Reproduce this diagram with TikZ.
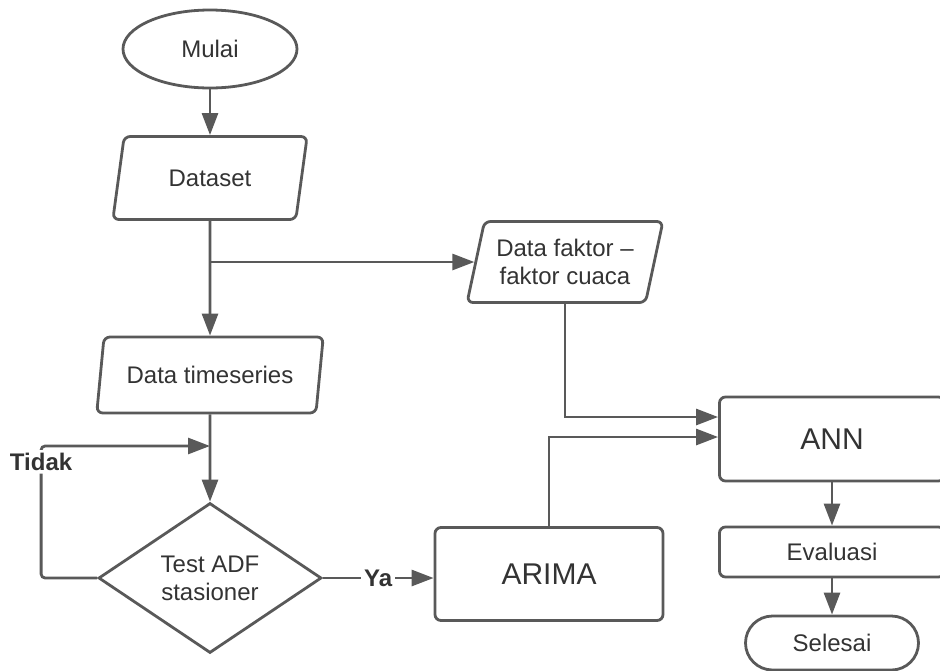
\documentclass[tikz,border=0pt]{standalone}
\usepackage{fontspec}
\setmainfont{Liberation Sans}
\usetikzlibrary{shapes.geometric,shapes.misc,arrows.meta,positioning}

\definecolor{linegray}{HTML}{595959}
\definecolor{textgray}{HTML}{333333}

\tikzset{
	base/.style={draw=linegray, line width=2.8pt, text=textgray,
		font=\fontsize{24}{28}\selectfont, align=center, inner sep=0pt},
	terminal/.style={base, ellipse, minimum width=174pt, minimum height=78pt},
	stopbox/.style={base, rounded rectangle, minimum width=173pt,
		minimum height=54pt},
	iobox/.style={base, trapezium, trapezium left angle=72,
		trapezium right angle=108, trapezium stretches=true,
		rounded corners=6pt},
	procbox/.style={base, rectangle, rounded corners=6pt},
	bigtext/.style={font=\fontsize{30}{36}\selectfont},
	decision/.style={base, diamond, minimum width=223pt, minimum height=150pt},
	arr/.style={draw=linegray, line width=2.8pt,
		-{Triangle[length=22pt,width=16pt]}},
	lbl/.style={fill=white, text=textgray,
		font=\bfseries\fontsize{24}{28}\selectfont, inner sep=3pt}
}

\begin{document}
\begin{tikzpicture}[x=1pt, y=-1pt]

	\useasboundingbox (0,0) rectangle (940,670);
	\clip (0,0) rectangle (940,670);

	\node[terminal] (mulai) at (210,49) {Mulai};
	\node[iobox, minimum width=196pt, minimum height=83pt] (dataset)
		at (210,178) {Dataset};
	\node[iobox, minimum width=196pt, minimum height=81pt] (faktor)
		at (565,262) {Data faktor –\\faktor cuaca};
	\node[iobox, minimum width=227pt, minimum height=76pt] (series)
		at (210,375) {Data timeseries};
	\node[decision] (adf) at (210,578) {Test ADF\\stasioner};

	\node[procbox, bigtext, minimum width=228pt, minimum height=93pt] (arima)
		at (549,574) {ARIMA};
	\node[procbox, bigtext, minimum width=225pt, minimum height=84pt] (ann)
		at (832,439) {ANN};
	\node[procbox, minimum width=225pt, minimum height=50pt] (eval)
		at (832,552) {Evaluasi};
	\node[stopbox] (selesai) at (832,643) {Selesai};

	\coordinate (split) at (dataset.south |- faktor.west);
	\coordinate (merge) at (210,446);

	\draw[arr] (mulai) -- (dataset);
	\draw[arr] (dataset.south) -- (series.north);
	\draw[arr] (split) -- (faktor.west);
	\draw[arr] (series.south) -- (adf.north);

	\draw[arr, rounded corners=4pt] (adf.west) -- ++(-56,0)
		|- node[lbl, pos=0.44] {Tidak} (merge);
	\draw[arr] (adf.east) -- node[lbl] {Ya} (adf.east -| arima.west);

	\draw[arr] (faktor.south) |- ([yshift=22pt]ann.west);
	\draw[arr] (arima.north) |- ([yshift=2pt]ann.west);

	\draw[arr] (ann) -- (eval);
	\draw[arr] (eval) -- (selesai);

\end{tikzpicture}
\end{document}
